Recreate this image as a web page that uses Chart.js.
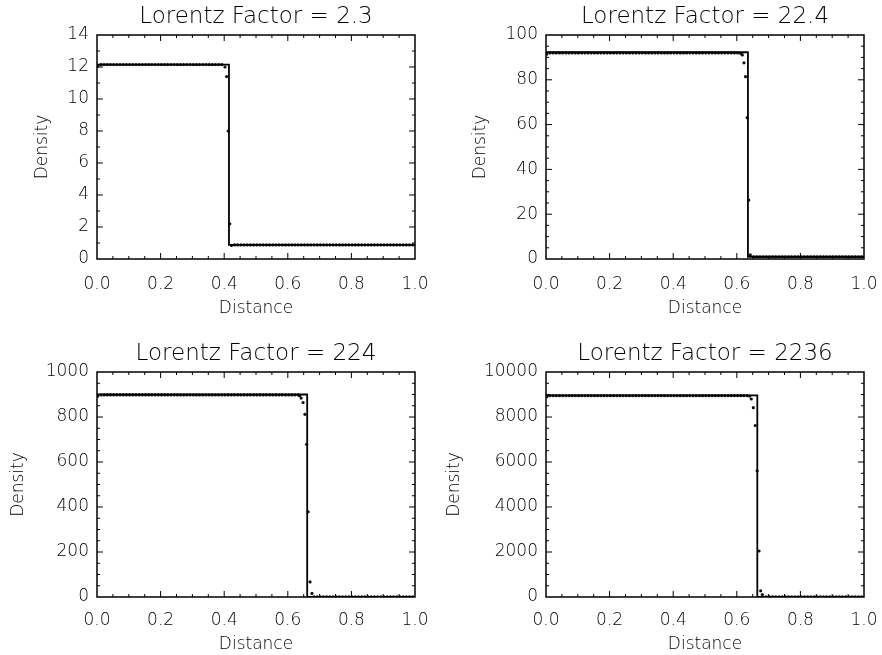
<!DOCTYPE html>
<html lang="en">
<head>
<meta charset="UTF-8">
<title>Shock tube density profiles</title>
<script src="https://cdn.jsdelivr.net/npm/chart.js"></script>
<style>
  html, body { margin: 0; padding: 0; background: #fff; overflow: hidden; }
  body { width: 882px; height: 655px; position: relative; }
  canvas { position: absolute; }
</style>
</head>
<body>
<canvas id="c1" width="441" height="330" style="left:0;top:0"></canvas>
<canvas id="c2" width="441" height="330" style="left:441px;top:0"></canvas>
<canvas id="c3" width="441" height="325" style="left:0;top:330px"></canvas>
<canvas id="c4" width="441" height="325" style="left:441px;top:330px"></canvas>
<script>
// panel titles
const titles = ['Lorentz Factor = 2.3', 'Lorentz Factor = 22.4', 'Lorentz Factor = 224', 'Lorentz Factor = 2236'];
const xLabel = 'Distance';
const yLabel = 'Density';

// axis ranges / tick steps per panel
const yMax = [14, 100, 1000, 10000];
const yStep = [2, 20, 200, 2000];
const yMinor = [1, 5, 50, 500];

// cell centres of the numerical grid (every other cell)
const gridX = [
  0.0025, 0.0125, 0.0225, 0.0325, 0.0425, 0.0525, 0.0625, 0.0725, 0.0825, 0.0925,
  0.1025, 0.1125, 0.1225, 0.1325, 0.1425, 0.1525, 0.1625, 0.1725, 0.1825, 0.1925,
  0.2025, 0.2125, 0.2225, 0.2325, 0.2425, 0.2525, 0.2625, 0.2725, 0.2825, 0.2925,
  0.3025, 0.3125, 0.3225, 0.3325, 0.3425, 0.3525, 0.3625, 0.3725, 0.3825, 0.3925,
  0.4025, 0.4125, 0.4225, 0.4325, 0.4425, 0.4525, 0.4625, 0.4725, 0.4825, 0.4925,
  0.5025, 0.5125, 0.5225, 0.5325, 0.5425, 0.5525, 0.5625, 0.5725, 0.5825, 0.5925,
  0.6025, 0.6125, 0.6225, 0.6325, 0.6425, 0.6525, 0.6625, 0.6725, 0.6825, 0.6925,
  0.7025, 0.7125, 0.7225, 0.7325, 0.7425, 0.7525, 0.7625, 0.7725, 0.7825, 0.7925,
  0.8025, 0.8125, 0.8225, 0.8325, 0.8425, 0.8525, 0.8625, 0.8725, 0.8825, 0.8925,
  0.9025, 0.9125, 0.9225, 0.9325, 0.9425, 0.9525, 0.9625, 0.9725, 0.9825, 0.9925
];

// numerical density on gridX (null = point listed in the shock arrays instead)
const numY1 = [
  12.05, 12.15, 12.15, 12.15, 12.15, 12.15, 12.15, 12.15, 12.15, 12.15,
  12.15, 12.15, 12.15, 12.15, 12.15, 12.15, 12.15, 12.15, 12.15, 12.15,
  12.15, 12.15, 12.15, 12.15, 12.15, 12.15, 12.15, 12.15, 12.15, 12.15,
  12.15, 12.15, 12.15, 12.15, 12.15, 12.15, 12.15, 12.15, 12.15, 12.15,
  12.0, 8.0, 0.85, 0.88, 0.88, 0.88, 0.88, 0.88, 0.88, 0.88,
  0.88, 0.88, 0.88, 0.88, 0.88, 0.88, 0.88, 0.88, 0.88, 0.88,
  0.88, 0.88, 0.88, 0.88, 0.88, 0.88, 0.88, 0.88, 0.88, 0.88,
  0.88, 0.88, 0.88, 0.88, 0.88, 0.88, 0.88, 0.88, 0.88, 0.88,
  0.88, 0.88, 0.88, 0.88, 0.88, 0.88, 0.88, 0.88, 0.88, 0.88,
  0.88, 0.88, 0.88, 0.88, 0.88, 0.88, 0.88, 0.88, 0.88, 0.88
];
const numY2 = [
  91.5, 92, 92, 92, 92, 92, 92, 92, 92, 92,
  92, 92, 92, 92, 92, 92, 92, 92, 92, 92,
  92, 92, 92, 92, 92, 92, 92, 92, 92, 92,
  92, 92, 92, 92, 92, 92, 92, 92, 92, 92,
  92, 92, 92, 92, 92, 92, 92, 92, 92, 92,
  92, 92, 92, 92, 92, 92, 92, 92, 92, 92,
  92, 91.7, 87.6, 63.1, 1.8, 1, 1, 1, 1, 1,
  1, 1, 1, 1, 1, 1, 1, 1, 1, 1,
  1, 1, 1, 1, 1, 1, 1, 1, 1, 1,
  1, 1, 1, 1, 1, 1, 1, 1, 1, 1
];
const numY3 = [
  893, 898, 898, 898, 898, 898, 898, 898, 898, 898,
  898, 898, 898, 898, 898, 898, 898, 898, 898, 898,
  898, 898, 898, 898, 898, 898, 898, 898, 898, 898,
  898, 898, 898, 898, 898, 898, 898, 898, 898, 898,
  898, 898, 898, 898, 898, 898, 898, 898, 898, 898,
  898, 898, 898, 898, 898, 898, 898, 898, 898, 898,
  898, 898, 898, 898, null, null, null, null, 1, 1,
  1, 1, 1, 1, 1, 1, 1, 1, 1, 1,
  1, 1, 1, 1, 1, 1, 1, 1, 1, 1,
  1, 1, 1, 1, 1, 1, 1, 1, 1, 1
];
const numY4 = [
  8900, 8950, 8950, 8950, 8950, 8950, 8950, 8950, 8950, 8950,
  8950, 8950, 8950, 8950, 8950, 8950, 8950, 8950, 8950, 8950,
  8950, 8950, 8950, 8950, 8950, 8950, 8950, 8950, 8950, 8950,
  8950, 8950, 8950, 8950, 8950, 8950, 8950, 8950, 8950, 8950,
  8950, 8950, 8950, 8950, 8950, 8950, 8950, 8950, 8950, 8950,
  8950, 8950, 8950, 8950, 8950, 8950, 8950, 8950, 8950, 8950,
  8950, 8950, 8950, 8950, null, null, null, null, 10, 10,
  10, 10, 10, 10, 10, 10, 10, 10, 10, 10,
  10, 10, 10, 10, 10, 10, 10, 10, 10, 10,
  10, 10, 10, 10, 10, 10, 10, 10, 10, 10
];

// extra numerical points inside the shock
const shockX1 = [0.4075, 0.4175];
const shockY1 = [11.4, 2.2];
const shockX2 = [0.6175, 0.6275, 0.6375];
const shockY2 = [91.1, 81.4, 26.3];
const shockX3 = [0.637, 0.642, 0.648, 0.654, 0.659, 0.664, 0.670, 0.676];
const shockY3 = [895, 884, 864, 812, 679, 379, 67, 16];
const shockX4 = [0.6405, 0.6456, 0.652, 0.658, 0.664, 0.670, 0.675, 0.680];
const shockY4 = [8930, 8800, 8413, 7622, 5609, 2044, 276, 111];

// exact (analytic) solution
const exactX1 = [0, 0.415, 0.415, 1];
const exactY1 = [12.15, 12.15, 0.88, 0.88];
const exactX2 = [0, 0.635, 0.635, 1];
const exactY2 = [92.3, 92.3, 1, 1];
const exactX3 = [0, 0.661, 0.661, 1];
const exactY3 = [900, 900, 1, 1];
const exactX4 = [0, 0.6645, 0.6645, 1];
const exactY4 = [8960, 8960, 10, 10];

const numY = [numY1, numY2, numY3, numY4];
const shockX = [shockX1, shockX2, shockX3, shockX4];
const shockY = [shockY1, shockY2, shockY3, shockY4];
const exactX = [exactX1, exactX2, exactX3, exactX4];
const exactY = [exactY1, exactY2, exactY3, exactY4];

// layout per panel so the plot boxes land where the original has them
const boxes = [
  { padL: 32.6, padR: 26, padT: 2.9, titleGap: 4.5, padB: 10.8, yW: 64.4, xH: 60.2, tickPad: 15 },
  { padL: 29.3, padR: 18, padT: 2.9, titleGap: 4.5, padB: 10.8, yW: 75.7, xH: 60.2, tickPad: 15 },
  { padL: 8.1, padR: 26, padT: 10.2, titleGap: 4.2, padB: 0, yW: 88.9, xH: 58, tickPad: 13 },
  { padL: 3.6, padR: 18, padT: 10.2, titleGap: 4.2, padB: 0, yW: 101.4, xH: 58, tickPad: 13 }
];

const FONT = "'DejaVu Sans', sans-serif";

// box frame with inward major/minor ticks on all four sides
const boxTicks = {
  id: 'boxTicks',
  afterDatasetsDraw(chart, args, o) {
    const { ctx, chartArea: a, scales: { x, y } } = chart;
    ctx.save();
    ctx.strokeStyle = '#000';
    ctx.lineWidth = 1.5;
    ctx.strokeRect(a.left, a.top, a.right - a.left, a.bottom - a.top);
    ctx.lineWidth = 1;
    ctx.beginPath();
    const isMajor = (v, step) => Math.abs(v / step - Math.round(v / step)) < 1e-6;
    let n = Math.round((x.max - x.min) / o.xMinor);
    for (let i = 1; i < n; i++) {
      const v = x.min + i * o.xMinor;
      const px = x.getPixelForValue(v);
      const len = isMajor(v, o.xMajor) ? 6 : 3;
      ctx.moveTo(px, a.bottom); ctx.lineTo(px, a.bottom - len);
      ctx.moveTo(px, a.top); ctx.lineTo(px, a.top + len);
    }
    n = Math.round((y.max - y.min) / o.yMinor);
    for (let i = 1; i < n; i++) {
      const v = y.min + i * o.yMinor;
      const py = y.getPixelForValue(v);
      const len = isMajor(v, o.yMajor) ? 6 : 3;
      ctx.moveTo(a.left, py); ctx.lineTo(a.left + len, py);
      ctx.moveTo(a.right, py); ctx.lineTo(a.right - len, py);
    }
    ctx.stroke();
    ctx.restore();
  }
};

for (let p = 0; p < 4; p++) {
  const b = boxes[p];
  const pts = [];
  gridX.forEach((x, i) => { if (numY[p][i] !== null) pts.push({ x: x, y: numY[p][i] }); });
  shockX[p].forEach((x, i) => pts.push({ x: x, y: shockY[p][i] }));
  const line = exactX[p].map((x, i) => ({ x: x, y: exactY[p][i] }));

  new Chart(document.getElementById('c' + (p + 1)), {
    type: 'scatter',
    data: {
      datasets: [{
        label: 'Exact',
        data: line,
        showLine: true,
        borderColor: '#000',
        borderWidth: 1.8,
        pointRadius: 0,
        fill: false
      }, {
        label: 'Numerical',
        data: pts,
        showLine: false,
        pointRadius: 1.6,
        pointBackgroundColor: '#111',
        pointBorderWidth: 0
      }]
    },
    options: {
      responsive: false,
      animation: false,
      layout: { padding: { left: b.padL, right: b.padR, top: b.padT, bottom: b.padB } },
      plugins: {
        legend: { display: false },
        tooltip: { enabled: false },
        title: {
          display: true,
          fullSize: false,
          text: titles[p],
          color: '#000',
          font: { family: FONT, size: 23, weight: '200' },
          padding: { top: 0, bottom: b.titleGap }
        },
        boxTicks: { xMinor: 0.05, xMajor: 0.2, yMinor: yMinor[p], yMajor: yStep[p] }
      },
      scales: {
        x: {
          type: 'linear',
          min: 0,
          max: 1,
          grid: { display: false, drawTicks: false },
          border: { display: false },
          ticks: {
            stepSize: 0.2,
            autoSkip: false,
            maxRotation: 0,
            padding: b.tickPad,
            color: '#000',
            font: { family: FONT, size: 17, weight: '200' },
            callback: v => v.toFixed(1)
          },
          title: {
            display: true,
            text: xLabel,
            color: '#000',
            padding: 0,
            font: { family: FONT, size: 17, weight: '200' }
          },
          afterFit: s => { s.height = b.xH; s.paddingLeft = 0; s.paddingRight = 0; }
        },
        y: {
          type: 'linear',
          min: 0,
          max: yMax[p],
          grid: { display: false, drawTicks: false },
          border: { display: false },
          ticks: {
            stepSize: yStep[p],
            autoSkip: false,
            padding: 8,
            color: '#000',
            font: { family: FONT, size: 17, weight: '200' },
            callback: v => String(v)
          },
          title: {
            display: true,
            text: yLabel,
            color: '#000',
            padding: 0,
            font: { family: FONT, size: 17, weight: '200' }
          },
          afterFit: s => { s.width = b.yW; s.paddingTop = 0; s.paddingBottom = 0; }
        }
      }
    },
    plugins: [boxTicks]
  });
}
</script>
</body>
</html>
